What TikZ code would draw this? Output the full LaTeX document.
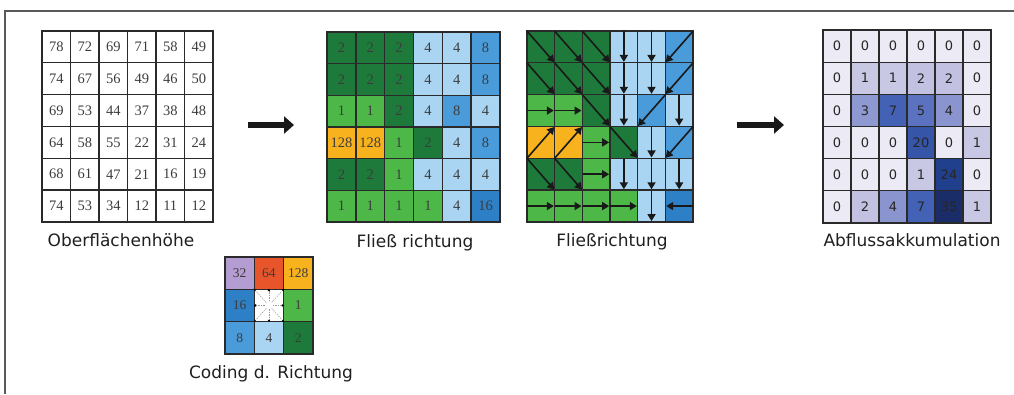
\documentclass[tikz,border=0pt]{standalone}
\usepackage{fontspec}
\setmainfont{Liberation Serif}
\newfontfamily\labelfont{DejaVu Sans}
\usetikzlibrary{arrows.meta}
% direction colours
\definecolor{dc0}{HTML}{FFFFFF}
\definecolor{dc1}{HTML}{4DB848}
\definecolor{dc2}{HTML}{1D7A3A}
\definecolor{dc4}{HTML}{A9D5F2}
\definecolor{dc8}{HTML}{4A9BDA}
\definecolor{dc16}{HTML}{2E80C6}
\definecolor{dc32}{HTML}{B49DD2}
\definecolor{dc64}{HTML}{E8552B}
\definecolor{dc128}{HTML}{F8B21E}
% accumulation colours
\definecolor{ac0}{HTML}{ECEAF4}
\definecolor{ac1}{HTML}{C8C7E4}
\definecolor{ac2}{HTML}{C2C1E1}
\definecolor{ac3}{HTML}{8E98D1}
\definecolor{ac4}{HTML}{8A94CF}
\definecolor{ac5}{HTML}{5A72BF}
\definecolor{ac7}{HTML}{4462B5}
\definecolor{ac20}{HTML}{3655A9}
\definecolor{ac24}{HTML}{203F8D}
\definecolor{ac35}{HTML}{1B2D69}
\definecolor{gridline}{HTML}{2A2A2A}
\definecolor{numtext}{HTML}{3C3C3C}
% anchors per direction code
\expandafter\def\csname fa1\endcsname{west}
\expandafter\def\csname ta1\endcsname{east}
\expandafter\def\csname fa2\endcsname{north west}
\expandafter\def\csname ta2\endcsname{south east}
\expandafter\def\csname fa4\endcsname{north}
\expandafter\def\csname ta4\endcsname{south}
\expandafter\def\csname fa8\endcsname{north east}
\expandafter\def\csname ta8\endcsname{south west}
\expandafter\def\csname fa16\endcsname{east}
\expandafter\def\csname ta16\endcsname{west}
\expandafter\def\csname fa128\endcsname{south west}
\expandafter\def\csname ta128\endcsname{north east}
\begin{document}
\begin{tikzpicture}[x=1pt,y=-1pt,
  cellbase/.style={draw=gridline, line width=1.3pt, inner sep=0pt, text=numtext},
  cellA/.style={cellbase, minimum width=28.5pt, minimum height=31.8pt, font=\fontsize{14.5}{14.5}\selectfont},
  cellB/.style={cellbase, minimum width=28.8pt, minimum height=31.7pt, font=\fontsize{14.5}{14.5}\selectfont},
  cellC/.style={cellbase, minimum width=27.7pt, minimum height=31.8pt},
  cellD/.style={cellbase, minimum width=28pt, minimum height=32.2pt, font=\labelfont\fontsize{13}{13}\selectfont, text=black!85},
  cellE/.style={cellbase, minimum width=29.3pt, minimum height=32.3pt, font=\fontsize{13.5}{13.5}\selectfont},
  flowarrow/.style={line width=1.6pt, black!90, -{Triangle[length=7pt,width=8pt]}, shorten >=1.5pt, shorten <=1pt},
  codearrow/.style={line width=0.5pt, black!40, dashed, dash pattern=on 1.5pt off 1pt, -{Triangle[length=2.5pt,width=2.5pt,black]}, shorten <=4pt},
  bigarrow/.style={line width=5.5pt, black!90, -{Triangle[length=10pt,width=17pt]}},
  lab/.style={font=\labelfont\fontsize{17}{17}\selectfont, text=black!88, anchor=base, inner sep=0pt},
  frameline/.style={line width=1.6pt, black!65}
]
\useasboundingbox (0,0) rectangle (1014,394);
% frame
\coordinate (fr-a) at (1014,11);
\coordinate (fr-b) at (5,11);
\coordinate (fr-c) at (5,394);
\draw[frameline] (fr-a) -- (fr-b) -- (fr-c);
% grid 1: surface height
\foreach \row [count=\r] in {{78,72,69,71,58,49},{74,67,56,49,46,50},{69,53,44,37,38,48},{64,58,55,22,31,24},{68,61,47,21,16,19},{74,53,34,12,11,12}} {
  \foreach \v [count=\c] in \row {
    \node[cellA] (g1-\r-\c) at ({42+(\c-0.5)*28.5},{31+(\r-0.5)*31.83}) {\v};
  }
}
% grid 2: flow direction codes
\foreach \row [count=\r] in {{2,2,2,4,4,8},{2,2,2,4,4,8},{1,1,2,4,8,4},{128,128,1,2,4,8},{2,2,1,4,4,4},{1,1,1,1,4,16}} {
  \foreach \v [count=\c] in \row {
    \node[cellB, fill=dc\v] (g2-\r-\c) at ({327+(\c-0.5)*28.83},{32+(\r-0.5)*31.67}) {\v};
  }
}
% grid 3: flow direction arrows
\foreach \row [count=\r] in {{2,2,2,4,4,8},{2,2,2,4,4,8},{1,1,2,4,8,4},{128,128,1,2,4,8},{2,2,1,4,4,4},{1,1,1,1,4,16}} {
  \foreach \v [count=\c] in \row {
    \node[cellC, fill=dc\v] (g3-\r-\c) at ({527+(\c-0.5)*27.67},{31+(\r-0.5)*31.83}) {};
  }
}
\foreach \row [count=\r] in {{2,2,2,4,4,8},{2,2,2,4,4,8},{1,1,2,4,8,4},{128,128,1,2,4,8},{2,2,1,4,4,4},{1,1,1,1,4,16}} {
  \foreach \v [count=\c] in \row {
    \edef\fa{\csname fa\v\endcsname}
    \edef\ta{\csname ta\v\endcsname}
    \draw[flowarrow] (g3-\r-\c.\fa) -- (g3-\r-\c.\ta);
  }
}
% grid 4: flow accumulation
\foreach \row [count=\r] in {{0,0,0,0,0,0},{0,1,1,2,2,0},{0,3,7,5,4,0},{0,0,0,20,0,1},{0,0,0,1,24,0},{0,2,4,7,35,1}} {
  \foreach \v [count=\c] in \row {
    \node[cellD, fill=ac\v] (g4-\r-\c) at ({823+(\c-0.5)*28},{30+(\r-0.5)*32.17}) {\v};
  }
}
% coding grid
\foreach \row [count=\r] in {{32,64,128},{16,0,1},{8,4,2}} {
  \foreach \v [count=\c] in \row {
    \node[cellE, fill=dc\v] (cd-\r-\c) at ({225+(\c-0.5)*29.3},{257+(\r-0.5)*32.3}) {\ifnum\v=0\else\v\fi};
  }
}
\foreach \a in {north,south,east,west,north east,north west,south east,south west} {
  \draw[codearrow] (cd-2-2.center) -- (cd-2-2.\a);
}
% big arrows
\coordinate (ba1s) at (248,125);
\coordinate (ba1e) at (294,125);
\draw[bigarrow] (ba1s) -- (ba1e);
\coordinate (ba2s) at (737,125);
\coordinate (ba2e) at (784,125);
\draw[bigarrow] (ba2s) -- (ba2e);
% labels
\node[lab] (l1) at (121,246) {Oberflächenhöhe};
\node[lab] (l2) at (415,247) {Fließ richtung};
\node[lab] (l3) at (612,246) {Fließrichtung};
\node[lab] (l4) at (912,246) {Abflussakkumulation};
\node[lab] (l5) at (271,378) {Coding d. Richtung};
\end{tikzpicture}
\end{document}
